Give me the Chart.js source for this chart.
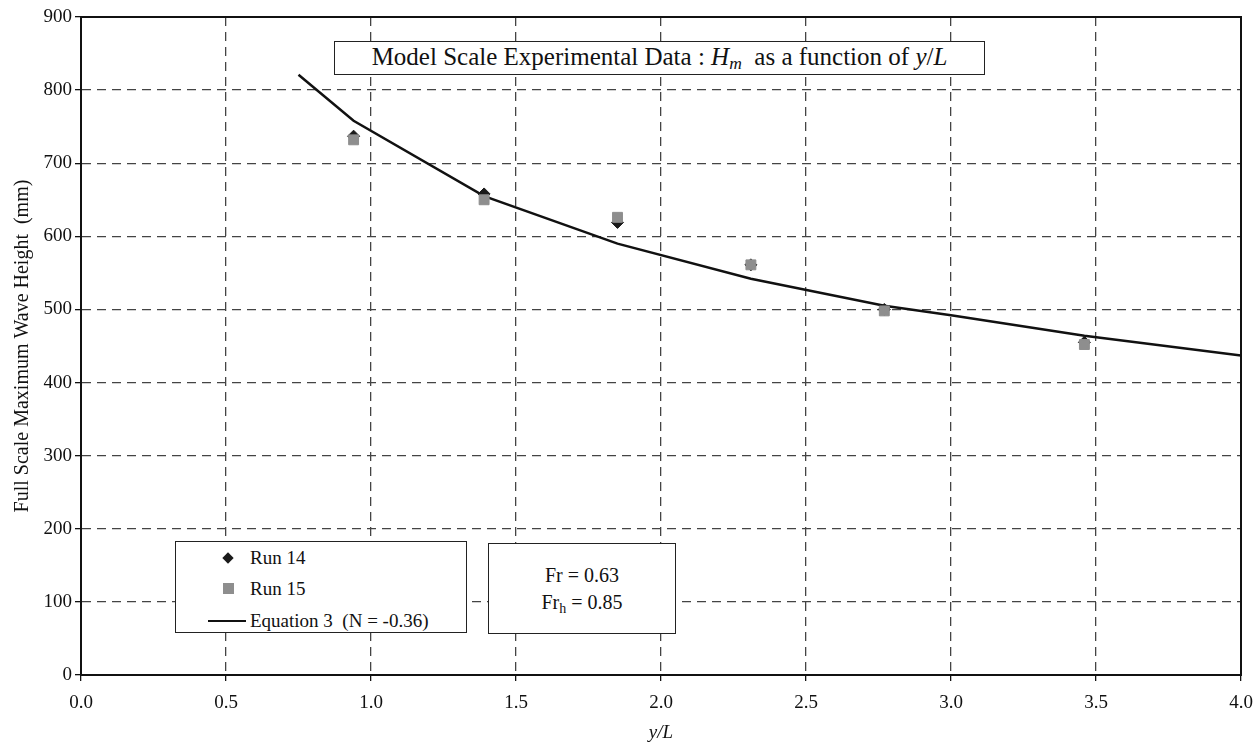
<!DOCTYPE html>
<html>
<head>
<meta charset="utf-8">
<script src="https://cdn.jsdelivr.net/npm/chart.js@4.4.0/dist/chart.umd.min.js"></script>
<style>
body { margin: 0; background: #fff; }
#wrap { position: relative; width: 1260px; height: 752px; font-family: "Liberation Serif", "DejaVu Serif", serif; color: #111; }
.box { position: absolute; border: 1.5px solid #222; background: #fff; box-sizing: border-box; }
#titleBox { left: 334px; top: 41px; width: 651px; height: 34px; font-size: 25px; text-align: center; line-height: 30px; white-space: pre; }
#legendBox { left: 175px; top: 541px; width: 292px; height: 92px; font-size: 19px; }
#frBox { left: 488px; top: 543px; width: 188px; height: 91px; font-size: 20px; text-align: center; padding-top: 18px; line-height: 27px; }
.row { position: absolute; left: 0; height: 22px; line-height: 22px; }
.row span.lbl { position: absolute; left: 74px; white-space: pre; }
.mk { position: absolute; }
sub { font-size: 70%; vertical-align: -4px; line-height: 0; }
</style>
</head>
<body>
<div id="wrap">
  <canvas id="chart" width="1260" height="752"></canvas>
  <div class="box" id="titleBox">Model Scale Experimental Data : <i>H</i><sub><i>m</i></sub>  as a function of <i>y</i>/<i>L</i></div>
  <div class="box" id="legendBox"></div>
  <div class="box" id="frBox">Fr = 0.63<br>Fr<sub>h</sub> = 0.85</div>
</div>
<script>
// 측정 위치 (y/L)
var xRun = [0.94, 1.39, 1.85, 2.31, 2.77, 3.46];
// Run 14, Run 15 최대 파고 (mm)
var run14 = [737, 658, 619, 561, 500, 455];
var run15 = [732, 650, 626, 561, 498, 452];
// Equation 3 곡선
var eqX = [0.75, 0.94, 1.39, 1.85, 2.31, 2.77, 3.0, 3.46, 4.0];
var eqY = [821, 758, 655, 590, 542, 505, 492, 464, 437];

function toPoints(xs, ys) {
	var pts = [];
	for (var i = 0; i < xs.length; i++) {
		pts.push({ x : xs[i], y : ys[i] });
	}
	return pts;
}

var serif = '"Liberation Serif", "DejaVu Serif", serif';

// 바깥 테두리 (위, 오른쪽 실선)
var framePlugin = {
	id : 'frame',
	beforeDatasetsDraw : function(chart) {
		var a = chart.chartArea;
		var ctx = chart.ctx;
		ctx.save();
		ctx.strokeStyle = '#111';
		ctx.lineWidth = 2;
		ctx.strokeRect(a.left, a.top, a.right - a.left, a.bottom - a.top);
		ctx.restore();
	}
};

var ctx = document.getElementById('chart').getContext('2d');
var chart = new Chart(ctx, {
	type : 'scatter',
	data : {
		datasets : [ {
			label : 'Run 14',
			data : toPoints(xRun, run14),
			pointStyle : 'rectRot',
			pointRadius : 6,
			backgroundColor : '#1a1a1a',
			borderColor : '#1a1a1a',
			order : 1
		}, {
			label : 'Run 15',
			data : toPoints(xRun, run15),
			pointStyle : 'rect',
			pointRadius : 7,
			backgroundColor : '#8e8e8e',
			borderColor : '#8e8e8e',
			order : 0
		}, {
			label : 'Equation 3  (N = -0.36)',
			type : 'line',
			data : toPoints(eqX, eqY),
			borderColor : '#111',
			borderWidth : 2.5,
			pointRadius : 0,
			tension : 0,
			fill : false,
			order : 2
		} ]
	},
	options : {
		responsive : false,
		animation : false,
		layout : {
			padding : { top : 17, right : 19, left : 0, bottom : 0 }
		},
		plugins : {
			legend : { display : false },
			tooltip : { enabled : false }
		},
		scales : {
			x : {
				type : 'linear',
				min : 0,
				max : 4,
				ticks : {
					stepSize : 0.5,
					padding : 11,
					color : '#111',
					font : { family : serif, size : 19 },
					callback : function(v) { return v.toFixed(1); }
				},
				grid : { color : '#444', lineWidth : 1.3, tickLength : 6, tickColor : '#111' },
				border : { display : true, color : '#111', width : 2, dash : [ 9, 6 ] },
				title : {
					display : true,
					text : 'y/L',
					color : '#111',
					font : { family : serif, size : 19, style : 'italic' },
					padding : { top : 0, bottom : 8 }
				},
				afterFit : function(s) {
					s.height = 77;
					s.paddingLeft = 0;
					s.paddingRight = 0;
				}
			},
			y : {
				min : 0,
				max : 900,
				ticks : {
					stepSize : 100,
					padding : 3,
					color : '#111',
					font : { family : serif, size : 19 }
				},
				grid : { color : '#444', lineWidth : 1.3, tickLength : 6, tickColor : '#111' },
				border : { display : true, color : '#111', width : 2, dash : [ 9, 6 ] },
				title : {
					display : true,
					text : 'Full Scale Maximum Wave Height  (mm)',
					color : '#111',
					font : { family : serif, size : 20 },
					padding : { top : 11, bottom : 0 }
				},
				afterFit : function(s) {
					s.width = 81;
					s.paddingTop = 0;
					s.paddingBottom = 0;
				}
			}
		}
	},
	plugins : [ framePlugin ]
});

// 범례 (데이터셋에서 생성)
var legendBox = document.getElementById('legendBox');
var rowMid = [ 16, 47, 79 ];
chart.data.datasets.forEach(function(ds, i) {
	var row = document.createElement('div');
	row.className = 'row';
	row.style.top = (rowMid[i] - 11) + 'px';
	row.style.width = '100%';
	var mk = document.createElement('div');
	mk.className = 'mk';
	if (ds.type === 'line') {
		mk.style.left = '32px';
		mk.style.top = '10px';
		mk.style.width = '38px';
		mk.style.height = '0';
		mk.style.borderTop = '2px solid ' + ds.borderColor;
	} else if (ds.pointStyle === 'rectRot') {
		mk.style.left = '48px';
		mk.style.top = '7px';
		mk.style.width = '8px';
		mk.style.height = '8px';
		mk.style.background = ds.backgroundColor;
		mk.style.transform = 'rotate(45deg)';
	} else {
		mk.style.left = '47px';
		mk.style.top = '5px';
		mk.style.width = '11px';
		mk.style.height = '11px';
		mk.style.background = ds.backgroundColor;
	}
	row.appendChild(mk);
	var lbl = document.createElement('span');
	lbl.className = 'lbl';
	lbl.textContent = ds.label;
	row.appendChild(lbl);
	legendBox.appendChild(row);
});
</script>
</body>
</html>
